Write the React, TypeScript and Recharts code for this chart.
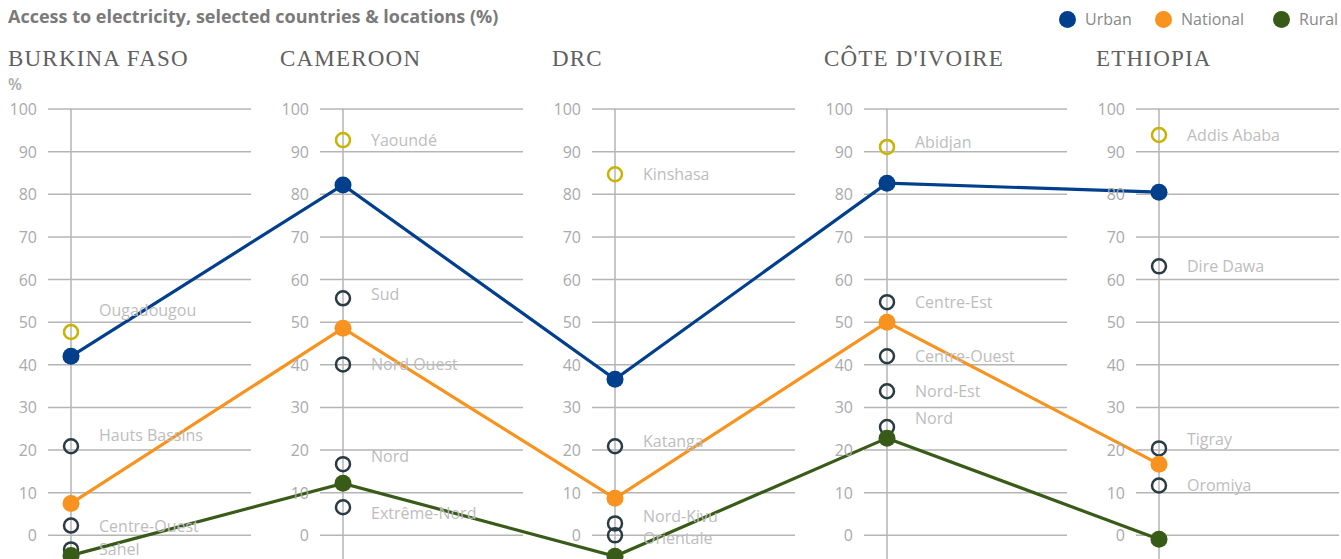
import { ComposedChart, Line, Scatter, XAxis, YAxis, ReferenceLine } from 'recharts';

const countries = ['BURKINA FASO', 'CAMEROON', 'DRC', "CÔTE D'IVOIRE", 'ETHIOPIA'];
const urban = [42.0, 82.2, 36.6, 82.6, 80.5];
const national = [7.5, 48.6, 8.7, 50.0, 16.7];
const rural = [-4.7, 12.2, -4.9, 22.8, -0.9];
const yTicks = [0, 10, 20, 30, 40, 50, 60, 70, 80, 90, 100];

// [countryIndex, name, value, isCapital]
const locations: [number, string, number, boolean][] = [
  [0, 'Ougadougou', 47.7, true],
  [0, 'Hauts Bassins', 20.9, false],
  [0, 'Centre-Ouest', 2.3, false],
  [0, 'Sahel', -3.3, false],
  [1, 'Yaoundé', 92.7, true],
  [1, 'Sud', 55.6, false],
  [1, 'Nord Ouest', 40.1, false],
  [1, 'Nord', 16.7, false],
  [1, 'Extrême-Nord', 6.6, false],
  [2, 'Kinshasa', 84.7, true],
  [2, 'Katanga', 20.9, false],
  [2, 'Nord-Kivu', 2.8, false],
  [2, 'Orientale', 0.0, false],
  [3, 'Abidjan', 91.1, true],
  [3, 'Centre-Est', 54.7, false],
  [3, 'Centre-Ouest', 42.0, false],
  [3, 'Nord-Est', 33.8, false],
  [3, 'Nord', 25.4, false],
  [4, 'Addis Ababa', 93.9, true],
  [4, 'Dire Dawa', 63.1, false],
  [4, 'Tigray', 20.4, false],
  [4, 'Oromiya', 11.7, false],
];

// label nudges (px) so names don't collide
const labelNudge: Record<string, number> = {
  '0-Ougadougou': -22, '0-Hauts Bassins': -11, '1-Sud': -4, '1-Nord': -8, '1-Extrême-Nord': 6,
  '2-Katanga': -5, '2-Nord-Kivu': -7, '2-Orientale': 3, '3-Abidjan': -5, '3-Nord': -9, '4-Tigray': -9,
};

const C_URBAN = '#003f8c';
const C_NAT = '#f7931e';
const C_RURAL = '#385c17';
const SPACING = 272;
const FIRST_AXIS = 71;

const rows = countries.map((c, i) => ({ x: i, urban: urban[i], national: national[i], rural: rural[i] }));
const locData = locations.map(([i, name, v, cap]) => ({ x: i, y: v, name, cap, key: `${i}-${name}` }));
const tickData = countries.flatMap((_, i) => yTicks.map((t) => ({ x: i, y: t })));

const LocShape = (props: any) => {
  const { cx, cy, payload } = props;
  const dy = labelNudge[payload.key] || 0;
  return (
    <g>
      <text x={cx + 28} y={cy + dy} dominantBaseline="central" fontSize={16} fill="#bdbdbd" fontFamily="Open Sans">{payload.name}</text>
      <circle cx={cx} cy={cy} r={7} fill="#fff" fillOpacity={0} stroke={payload.cap ? '#c9b200' : '#2a3b44'} strokeWidth={2.5} />
    </g>
  );
};

const TickShape = (props: any) => {
  const { cx, cy, payload } = props;
  return (
    <text x={cx - 34} y={cy} textAnchor="end" dominantBaseline="central" fontSize={16} fill="#aaaaaa" fontFamily="Open Sans">{payload.y}</text>
  );
};

const legendItems = [
  { label: 'Urban', color: C_URBAN, x: 1059 },
  { label: 'National', color: C_NAT, x: 1155 },
  { label: 'Rural', color: C_RURAL, x: 1273 },
];

export default function App() {
  return (
    <div style={{ position: 'relative', width: 1341, height: 559, overflow: 'hidden', background: '#fff', fontFamily: 'Open Sans' }}>
      <style>{'body{margin:0}'}</style>
      <div style={{ position: 'absolute', left: 8, top: 4, fontSize: 18, fontWeight: 700, color: '#7a7a7a' }}>
        Access to electricity, selected countries &amp; locations (%)
      </div>
      {legendItems.map((l) => (
        <div key={l.label} style={{ position: 'absolute', left: l.x, top: 8, display: 'flex', alignItems: 'center', fontSize: 16, color: '#888' }}>
          <span style={{ width: 17, height: 17, borderRadius: '50%', background: l.color, display: 'inline-block', marginRight: 9 }} />
          {l.label}
        </div>
      ))}
      {countries.map((c, i) => (
        <div key={c} style={{ position: 'absolute', left: FIRST_AXIS - 63 + SPACING * i, top: 46, fontSize: 23, color: '#606060', fontFamily: 'Liberation Serif', letterSpacing: 1.2 }}>
          {c}
        </div>
      ))}
      <div style={{ position: 'absolute', left: 8, top: 73, fontSize: 16, fontWeight: 600, color: '#aaa' }}>%</div>
      <div style={{ position: 'absolute', left: 0, top: 0 }}>
        <ComposedChart width={1341} height={600} data={rows} margin={{ top: 109, right: 0, bottom: 22, left: 0 }}>
          <XAxis type="number" dataKey="x" domain={[-FIRST_AXIS / SPACING, (1341 - FIRST_AXIS) / SPACING]} hide />
          <YAxis type="number" dataKey="y" domain={[-10, 100]} hide />
          {countries.map((c, i) =>
            yTicks.map((t) => (
              <ReferenceLine key={`g-${i}-${t}`} segment={[{ x: i - 23 / SPACING, y: t }, { x: i + 180 / SPACING, y: t }]} stroke="#b5b5b5" strokeWidth={1.5} />
            ))
          )}
          {countries.map((c, i) => (
            <ReferenceLine key={`v-${i}`} segment={[{ x: i, y: 100 }, { x: i, y: -10 }]} stroke="#b5b5b5" strokeWidth={1.5} />
          ))}
          <Scatter data={tickData} shape={TickShape} isAnimationActive={false} />
          <Scatter data={locData} shape={LocShape} isAnimationActive={false} />
          <Line dataKey="urban" stroke={C_URBAN} strokeWidth={3.2} dot={{ r: 8.5, fill: C_URBAN, stroke: C_URBAN, strokeWidth: 0 }} isAnimationActive={false} />
          <Line dataKey="national" stroke={C_NAT} strokeWidth={3.2} dot={{ r: 8.5, fill: C_NAT, stroke: C_NAT, strokeWidth: 0 }} isAnimationActive={false} />
          <Line dataKey="rural" stroke={C_RURAL} strokeWidth={3.2} dot={{ r: 8.5, fill: C_RURAL, stroke: C_RURAL, strokeWidth: 0 }} isAnimationActive={false} />
        </ComposedChart>
      </div>
    </div>
  );
}
